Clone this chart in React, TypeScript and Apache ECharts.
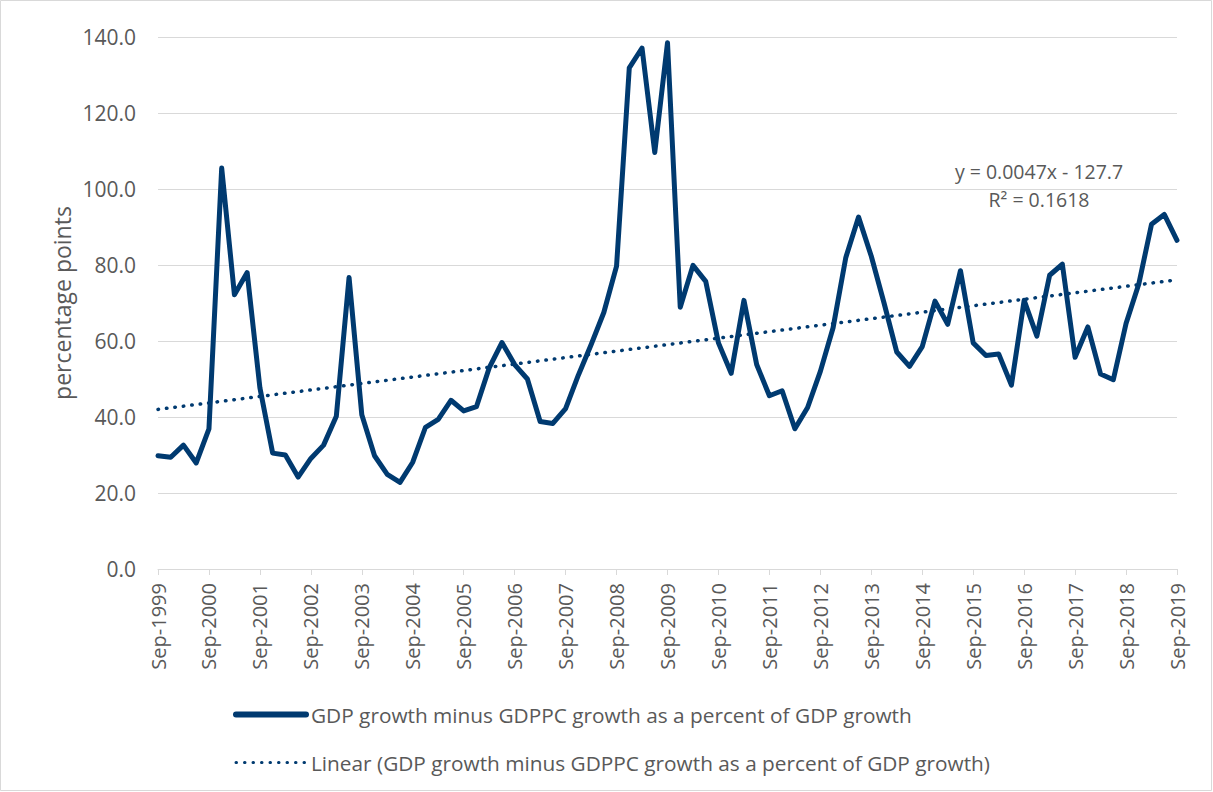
import React, { useEffect, useRef } from "react";
import * as echarts from "echarts";

const categories = [
  "Sep-1999", "Dec-1999", "Mar-2000", "Jun-2000",
  "Sep-2000", "Dec-2000", "Mar-2001", "Jun-2001",
  "Sep-2001", "Dec-2001", "Mar-2002", "Jun-2002",
  "Sep-2002", "Dec-2002", "Mar-2003", "Jun-2003",
  "Sep-2003", "Dec-2003", "Mar-2004", "Jun-2004",
  "Sep-2004", "Dec-2004", "Mar-2005", "Jun-2005",
  "Sep-2005", "Dec-2005", "Mar-2006", "Jun-2006",
  "Sep-2006", "Dec-2006", "Mar-2007", "Jun-2007",
  "Sep-2007", "Dec-2007", "Mar-2008", "Jun-2008",
  "Sep-2008", "Dec-2008", "Mar-2009", "Jun-2009",
  "Sep-2009", "Dec-2009", "Mar-2010", "Jun-2010",
  "Sep-2010", "Dec-2010", "Mar-2011", "Jun-2011",
  "Sep-2011", "Dec-2011", "Mar-2012", "Jun-2012",
  "Sep-2012", "Dec-2012", "Mar-2013", "Jun-2013",
  "Sep-2013", "Dec-2013", "Mar-2014", "Jun-2014",
  "Sep-2014", "Dec-2014", "Mar-2015", "Jun-2015",
  "Sep-2015", "Dec-2015", "Mar-2016", "Jun-2016",
  "Sep-2016", "Dec-2016", "Mar-2017", "Jun-2017",
  "Sep-2017", "Dec-2017", "Mar-2018", "Jun-2018",
  "Sep-2018", "Dec-2018", "Mar-2019", "Jun-2019",
  "Sep-2019",
];

const gdpShare = [
  29.8, 29.4, 32.6, 27.9, 36.9, 105.5, 72.2, 78.0, 47.7, 30.5,
  30.0, 24.2, 29.1, 32.6, 40.2, 76.7, 40.6, 29.8, 24.9, 22.8,
  28.1, 37.3, 39.4, 44.4, 41.6, 42.7, 52.9, 59.6, 53.8, 50.0,
  38.8, 38.3, 42.2, 51.0, 59.0, 67.5, 79.7, 131.9, 137.1, 109.6,
  138.5, 68.9, 79.9, 75.7, 59.5, 51.5, 70.7, 53.8, 45.6, 46.9,
  36.9, 42.5, 52.0, 63.5, 82.0, 92.6, 82.3, 70.0, 57.1, 53.3,
  58.5, 70.5, 64.4, 78.5, 59.5, 56.2, 56.6, 48.4, 70.7, 61.3,
  77.3, 80.2, 55.7, 63.7, 51.3, 49.8, 64.6, 75.0, 90.7, 93.3, 86.5,
];

const trendStart = 42.0;
const trendEnd = 76.1;

const seriesName = "GDP growth minus GDPPC growth as a percent of GDP growth";
const trendName = "Linear (GDP growth minus GDPPC growth as a percent of GDP growth)";
const equationLines = ["y = 0.0047x - 127.7", "R² = 0.1618"];
const yAxisTitle = "percentage points";

const FONT = "'Open Sans', 'Noto Sans', sans-serif";
const TEXT = "#595959";
const NAVY = "#003A70";
const GRID = "#D9D9D9";
const TREND_DASH = [0.5, 8];

export default function App() {
  const ref = useRef<HTMLDivElement>(null);

  useEffect(() => {
    if (!ref.current) return;
    const chart = echarts.init(ref.current, undefined, { renderer: "svg" });

    const trendData = categories.map((_, i) =>
      i === 0 ? trendStart : i === categories.length - 1 ? trendEnd : null
    );

    chart.setOption({
      animation: false,
      backgroundColor: "#ffffff",
      textStyle: { fontFamily: FONT },
      grid: { left: 158, right: 36, top: 37, bottom: 223, containLabel: false },
      xAxis: {
        type: "category",
        data: categories,
        boundaryGap: false,
        axisLine: { show: true, lineStyle: { color: GRID, width: 1 } },
        axisTick: { show: true, interval: 3, length: 6, lineStyle: { color: GRID } },
        axisLabel: {
          interval: 3,
          rotate: 90,
          margin: 14,
          color: TEXT,
          fontSize: 20,
          fontFamily: FONT,
        },
        splitLine: { show: false },
      },
      yAxis: {
        type: "value",
        min: 0,
        max: 140,
        interval: 20,
        axisLine: { show: false },
        axisTick: { show: false },
        axisLabel: {
          color: TEXT,
          fontSize: 21,
          fontFamily: FONT,
          margin: 22,
          formatter: (v: number) => v.toFixed(1),
        },
        splitLine: { lineStyle: { color: GRID, width: 1 } },
      },
      legend: {
        orient: "vertical",
        left: 233,
        top: 704,
        padding: 0,
        itemWidth: 70,
        itemHeight: 14,
        itemGap: 27,
        itemStyle: { opacity: 0 },
        textStyle: { color: TEXT, fontSize: 20.8, fontFamily: FONT },
        data: [
          {
            name: seriesName,
            itemStyle: { opacity: 0 },
            lineStyle: { color: NAVY, width: 6, cap: "round", type: "solid" },
          },
          {
            name: trendName,
            itemStyle: { opacity: 0 },
            lineStyle: { color: NAVY, width: 3, cap: "round", type: TREND_DASH },
          },
        ],
      },
      series: [
        {
          name: seriesName,
          type: "line",
          data: gdpShare,
          symbol: "none",
          lineStyle: { color: NAVY, width: 5, join: "round", cap: "round" },
          itemStyle: { color: NAVY },
          z: 3,
        },
        {
          name: trendName,
          type: "line",
          data: trendData,
          connectNulls: true,
          symbol: "none",
          lineStyle: { color: NAVY, width: 3.5, type: TREND_DASH, cap: "round" },
          itemStyle: { color: NAVY },
          z: 2,
        },
      ],
      graphic: [
        {
          type: "rect",
          shape: { x: 0.5, y: 0.5, width: 1211, height: 790 },
          style: { fill: "none", stroke: GRID, lineWidth: 1 },
          silent: true,
        },
        {
          type: "text",
          x: 62,
          y: 303,
          rotation: Math.PI / 2,
          style: {
            text: yAxisTitle,
            fill: TEXT,
            fontSize: 23,
            fontFamily: FONT,
            align: "center",
            verticalAlign: "middle",
          },
        },
        {
          type: "text",
          x: 1039,
          y: 171,
          style: {
            text: equationLines[0],
            fill: TEXT,
            fontSize: 19.5,
            lineHeight: 20,
            fontFamily: FONT,
            align: "center",
            verticalAlign: "middle",
          },
        },
        {
          type: "text",
          x: 1039,
          y: 199,
          style: {
            text: equationLines[1],
            fill: TEXT,
            fontSize: 19.5,
            lineHeight: 20,
            fontFamily: FONT,
            align: "center",
            verticalAlign: "middle",
          },
        },
      ],
    });

    return () => chart.dispose();
  }, []);

  return (
    <div
      ref={ref}
      style={{ position: "absolute", left: 0, top: 0, width: 1213, height: 792 }}
    />
  );
}
